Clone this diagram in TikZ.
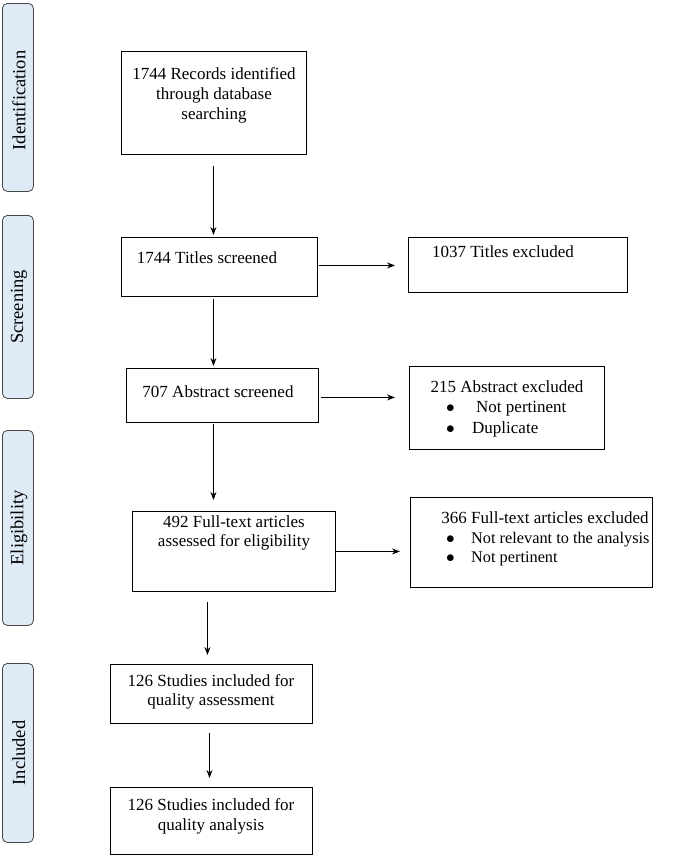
\documentclass[tikz,border=0pt]{standalone}
\usepackage{fontspec}
\setmainfont{Liberation Serif}
\usetikzlibrary{arrows.meta}
\definecolor{barfill}{RGB}{222,235,246}
\definecolor{barline}{RGB}{70,70,70}
\tikzset{
  bar/.style={draw=barline, fill=barfill, rounded corners=5pt, line width=0.8pt, anchor=north west, inner sep=0pt},
  bartext/.style={rotate=90, font=\fontsize{18.5}{20}\selectfont, inner sep=0pt},
  box/.style={draw, line width=0.9pt, anchor=north west, inner sep=0pt},
  txt/.style={font=\fontsize{17}{20}\selectfont, align=center, anchor=base, inner sep=0pt},
  ltxt/.style={font=\fontsize{17}{20}\selectfont, anchor=base west, inner sep=0pt},
  arr/.style={-{Stealth[length=8pt,width=6pt]}, line width=0.9pt},
}
\begin{document}
\begin{tikzpicture}[x=1pt,y=-1pt]
\useasboundingbox (0,0) rectangle (685,855);
% side bars
\node[bar, minimum width=31pt, minimum height=188pt] (b1) at (2,3) {};
\node[bartext] at ([xshift=1pt,yshift=-3pt]b1.center) {Identification};
\node[bar, minimum width=31pt, minimum height=183pt] (b2) at (2,215) {};
\node[bartext] at ([xshift=1pt]b2.center) {Screening};
\node[bar, minimum width=31pt, minimum height=195pt] (b3) at (2,430) {};
\node[bartext] at ([xshift=1pt]b3.center) {Eligibility};
\node[bar, minimum width=31pt, minimum height=179pt] (b4) at (2,663) {};
\node[bartext] at ([xshift=1pt]b4.center) {Included};
% boxes
\node[box, minimum width=185pt, minimum height=103pt] (rec) at (121,51) {};
\node[txt] at (214,79) {1744 Records identified};
\node[txt] at (214,99) {through database};
\node[txt] at (214,119) {searching};

\node[box, minimum width=196pt, minimum height=59pt] (tit) at (121,237) {};
\node[txt] at (207,263) {1744 Titles screened};

\node[box, minimum width=219pt, minimum height=55pt] (tex) at (408,237) {};
\node[txt] at (503,257) {1037 Titles excluded};

\node[box, minimum width=192pt, minimum height=54pt] (abs) at (126,368) {};
\node[txt] at (218,397) {707 Abstract screened};

\node[box, minimum width=195pt, minimum height=83pt] (aex) at (409,366) {};
\node[txt] at (507,392) {215 Abstract excluded};
\node[ltxt] at (446,412) {$\bullet$};
\node[ltxt] at (476,412) {Not pertinent};
\node[ltxt] at (446,433) {$\bullet$};
\node[ltxt] at (472,433) {Duplicate};

\node[box, minimum width=203pt, minimum height=80pt] (ful) at (132,511) {};
\node[txt] at (234,527) {492 Full-text articles};
\node[txt] at (234,546) {assessed for eligibility};

\node[box, minimum width=242pt, minimum height=90pt] (fex) at (410,497) {};
\node[txt] at (545,523) {366 Full-text articles excluded};
\node[ltxt] at (446,543) {$\bullet$};
\node[ltxt, font=\fontsize{16.3}{20}\selectfont] at (471,543) {Not relevant to the analysis};
\node[ltxt] at (446,562) {$\bullet$};
\node[ltxt, font=\fontsize{16.3}{20}\selectfont] at (471,562) {Not pertinent};

\node[box, minimum width=202pt, minimum height=59pt] (qa) at (110,664) {};
\node[txt] at (211,686) {126 Studies included for};
\node[txt] at (211,705) {quality assessment};

\node[box, minimum width=202pt, minimum height=67pt] (qb) at (110,787) {};
\node[txt] at (211,810) {126 Studies included for};
\node[txt] at (211,830) {quality analysis};

% arrows
\draw[arr] ([xshift=-0.5pt,yshift=-11pt]rec.south) -- ([xshift=-6pt,yshift=2pt]tit.north);
\draw[arr] ([xshift=1pt,yshift=1.5pt]tit.east) -- ([xshift=-13pt,yshift=-0.5pt]tex.west);
\draw[arr] ([xshift=-6pt,yshift=-2pt]tit.south) -- ([xshift=-9pt,yshift=2pt]abs.north);
\draw[arr] ([xshift=2pt,yshift=-2pt]abs.east) -- ([xshift=-14pt,yshift=10.5pt]aex.west);
\draw[arr] ([xshift=-9pt,yshift=-1pt]abs.south) -- ([xshift=-20.5pt,yshift=11pt]ful.north);
\draw[arr] (ful.east) -- ([xshift=-10pt,yshift=-9pt]fex.west);
\draw[arr] ([xshift=-26.5pt,yshift=-10pt]ful.south) -- ([xshift=-4pt,yshift=9pt]qa.north);
\draw[arr] ([xshift=-2pt,yshift=-9pt]qa.south) -- ([xshift=-2pt,yshift=9pt]qb.north);
\end{tikzpicture}
\end{document}
